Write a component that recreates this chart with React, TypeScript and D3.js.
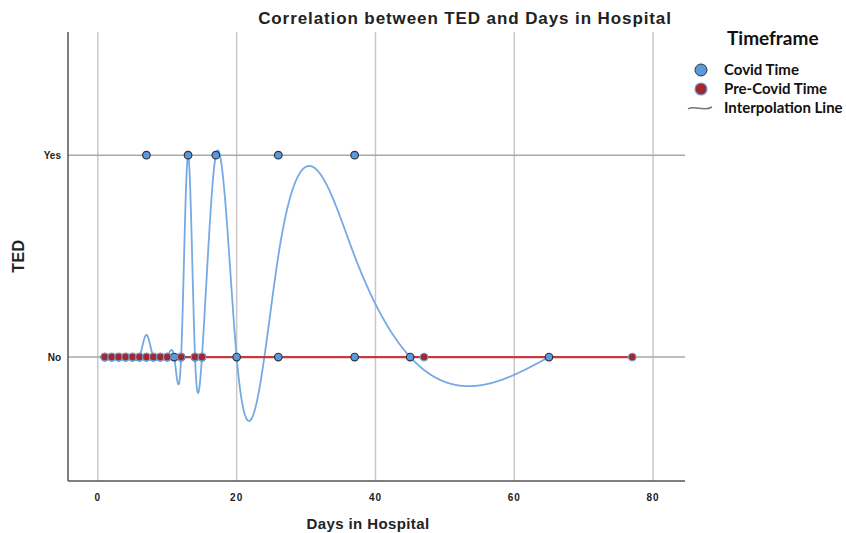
import React, { useEffect, useRef } from "react";
import * as d3 from "d3";

// TED: 0 = No, 1 = Yes
const covidYesDays = [7, 13, 17, 26, 37];
const covidNoDays = [1, 2, 3, 4, 5, 6, 7, 8, 9, 10, 11, 12, 14, 15, 20, 26, 37, 45, 65];
const preCovidNoDays = [1, 2, 3, 4, 5, 6, 7, 8, 9, 10, 12, 14, 15, 47, 77];

// interpolation knots (mean TED per day)
const covidLineDays = [1, 2, 3, 4, 5, 6, 7, 8, 9, 10, 11, 12, 13, 14, 15, 17, 20, 26, 37, 45, 65];
const covidLineTED = [0, 0, 0, 0, 0, 0, 0.11, 0, 0, 0, 0, 0, 1, 0, 0, 1, 0, 0.5, 0.5, 0, 0];
const preCovidLineDays = [1, 77];
const preCovidLineTED = [0, 0];

const xTicks = [0, 20, 40, 60, 80];
const yTicks = [
  { v: 1, label: "Yes" },
  { v: 0, label: "No" },
];

const legendItems = ["Covid Time", "Pre-Covid Time", "Interpolation Line"];

const COVID = "#5b98dc";
const PRE = "#a3282b";

function naturalSpline(xs: number[], ys: number[]) {
  const n = xs.length;
  const h = d3.range(n - 1).map((i) => xs[i + 1] - xs[i]);
  const a = new Array(n).fill(0);
  const b = new Array(n).fill(0);
  const c = new Array(n).fill(0);
  const r = new Array(n).fill(0);
  b[0] = 1;
  b[n - 1] = 1;
  for (let i = 1; i < n - 1; i++) {
    a[i] = h[i - 1];
    b[i] = 2 * (h[i - 1] + h[i]);
    c[i] = h[i];
    r[i] = 6 * ((ys[i + 1] - ys[i]) / h[i] - (ys[i] - ys[i - 1]) / h[i - 1]);
  }
  // thomas algorithm
  const cp = new Array(n).fill(0);
  const rp = new Array(n).fill(0);
  cp[0] = c[0] / b[0];
  rp[0] = r[0] / b[0];
  for (let i = 1; i < n; i++) {
    const m = b[i] - a[i] * cp[i - 1];
    cp[i] = c[i] / m;
    rp[i] = (r[i] - a[i] * rp[i - 1]) / m;
  }
  const M = new Array(n).fill(0);
  M[n - 1] = rp[n - 1];
  for (let i = n - 2; i >= 0; i--) M[i] = rp[i] - cp[i] * M[i + 1];
  return (x: number) => {
    let i = d3.bisectRight(xs, x) - 1;
    i = Math.max(0, Math.min(n - 2, i));
    const hi = h[i];
    const t1 = xs[i + 1] - x;
    const t0 = x - xs[i];
    return (
      (M[i] * t1 * t1 * t1) / (6 * hi) +
      (M[i + 1] * t0 * t0 * t0) / (6 * hi) +
      (ys[i] / hi - (M[i] * hi) / 6) * t1 +
      (ys[i + 1] / hi - (M[i + 1] * hi) / 6) * t0
    );
  };
}

export default function App() {
  const svgRef = useRef<SVGSVGElement>(null);

  useEffect(() => {
    if (!svgRef.current) return;
    const width = 846;
    const height = 533;
    const m = { left: 68, right: 161, top: 32, bottom: 52 };

    const svg = d3.select(svgRef.current);
    svg.selectAll("*").remove();

    const x = d3.scaleLinear().domain([-4.3, 84.6]).range([m.left, width - m.right]);
    const y = d3.scaleLinear().domain([-0.614, 1.61]).range([height - m.bottom, m.top]);

    const font = "'Liberation Sans', Arial, sans-serif";
    const legendFont = "Lato, 'Open Sans', sans-serif";

    // vertical grid
    svg
      .append("g")
      .selectAll("line")
      .data(xTicks)
      .join("line")
      .attr("x1", (d) => x(d))
      .attr("x2", (d) => x(d))
      .attr("y1", m.top)
      .attr("y2", height - m.bottom)
      .attr("stroke", "#c8c8c8")
      .attr("stroke-width", 1.5);

    // horizontal category lines
    svg
      .append("g")
      .selectAll("line")
      .data(yTicks)
      .join("line")
      .attr("x1", m.left)
      .attr("x2", width - m.right)
      .attr("y1", (d) => y(d.v))
      .attr("y2", (d) => y(d.v))
      .attr("stroke", "#a8a8a8")
      .attr("stroke-width", 1.5);

    // axes
    svg
      .append("line")
      .attr("x1", m.left)
      .attr("x2", m.left)
      .attr("y1", m.top)
      .attr("y2", height - m.bottom)
      .attr("stroke", "#555")
      .attr("stroke-width", 1.5);
    svg
      .append("line")
      .attr("x1", m.left)
      .attr("x2", width - m.right)
      .attr("y1", height - m.bottom)
      .attr("y2", height - m.bottom)
      .attr("stroke", "#555")
      .attr("stroke-width", 1.5);

    svg
      .append("g")
      .selectAll("text")
      .data(xTicks)
      .join("text")
      .attr("x", (d) => x(d))
      .attr("y", height - m.bottom + 20)
      .attr("text-anchor", "middle")
      .attr("font-family", font)
      .attr("font-size", 10)
      .attr("font-weight", "bold")
      .attr("letter-spacing", 1)
      .attr("fill", "#222")
      .text((d) => d);

    svg
      .append("g")
      .selectAll("text")
      .data(yTicks)
      .join("text")
      .attr("x", m.left - 7)
      .attr("y", (d) => y(d.v) + 4)
      .attr("text-anchor", "end")
      .attr("font-family", font)
      .attr("font-size", 10)
      .attr("font-weight", "bold")
      .attr("fill", "#222")
      .text((d) => d.label);

    // interpolation lines
    const line = d3
      .line<[number, number]>()
      .x((d) => x(d[0]))
      .y((d) => y(d[1]));

    const preF = naturalSpline(preCovidLineDays, preCovidLineTED);
    const preSamples = d3
      .range(preCovidLineDays[0], preCovidLineDays[preCovidLineDays.length - 1] + 0.01, 0.5)
      .map((d) => [d, preF(d)] as [number, number]);

    const covF = naturalSpline(covidLineDays, covidLineTED);
    const covSamples = d3
      .range(covidLineDays[0], covidLineDays[covidLineDays.length - 1] + 0.001, 0.05)
      .map((d) => [d, covF(d)] as [number, number]);

    svg
      .append("path")
      .attr("d", line(covSamples))
      .attr("fill", "none")
      .attr("stroke", "#75aae6")
      .attr("stroke-width", 1.8);

    svg
      .append("path")
      .attr("d", line(preSamples))
      .attr("fill", "none")
      .attr("stroke", "#c43b3d")
      .attr("stroke-width", 2.2);

    // points
    const pre = preCovidNoDays.map((d) => ({ d, v: 0 }));
    const cov = [
      ...covidNoDays.map((d) => ({ d, v: 0 })),
      ...covidYesDays.map((d) => ({ d, v: 1 })),
    ];

    svg
      .append("g")
      .selectAll("circle")
      .data(cov)
      .join("circle")
      .attr("cx", (p) => x(p.d))
      .attr("cy", (p) => y(p.v))
      .attr("r", 3.8)
      .attr("fill", COVID)
      .attr("stroke", "#2b3540")
      .attr("stroke-width", 1.2);

    svg
      .append("g")
      .selectAll("circle")
      .data(pre)
      .join("circle")
      .attr("cx", (p) => x(p.d))
      .attr("cy", (p) => y(p.v))
      .attr("r", 3.8)
      .attr("fill", PRE)
      .attr("stroke", "#6f9fd8")
      .attr("stroke-width", 1.2);

    // titles
    svg
      .append("text")
      .attr("x", 465)
      .attr("y", 24)
      .attr("text-anchor", "middle")
      .attr("font-family", font)
      .attr("font-size", 17)
      .attr("font-weight", "bold")
      .attr("letter-spacing", 0.9)
      .attr("fill", "#222")
      .text("Correlation between TED and Days in Hospital");

    svg
      .append("text")
      .attr("x", 368)
      .attr("y", 529)
      .attr("text-anchor", "middle")
      .attr("font-family", font)
      .attr("font-size", 15)
      .attr("font-weight", "bold")
      .attr("letter-spacing", 0.4)
      .attr("fill", "#222")
      .text("Days in Hospital");

    svg
      .append("text")
      .attr("transform", `translate(24,${y(0.5)}) rotate(-90)`)
      .attr("text-anchor", "middle")
      .attr("font-family", font)
      .attr("font-size", 16)
      .attr("font-weight", "bold")
      .attr("letter-spacing", 0.5)
      .attr("fill", "#222")
      .text("TED");

    // legend
    const lg = svg.append("g");
    lg.append("text")
      .attr("x", 727)
      .attr("y", 45)
      .attr("font-family", legendFont)
      .attr("font-size", 19)
      .attr("font-weight", "bold")
      .attr("fill", "#111")
      .text("Timeframe");

    const ly = d3.scalePoint<string>().domain(legendItems).range([70, 108]);
    lg.selectAll("text.item")
      .data(legendItems)
      .join("text")
      .attr("class", "item")
      .attr("x", 724)
      .attr("y", (d) => (ly(d) as number) + 5)
      .attr("font-family", legendFont)
      .attr("font-size", 15)
      .attr("font-weight", "bold")
      .attr("fill", "#111")
      .text((d) => d);

    lg.append("circle")
      .attr("cx", 701)
      .attr("cy", ly("Covid Time") as number)
      .attr("r", 6)
      .attr("fill", COVID)
      .attr("stroke", "#2b3540")
      .attr("stroke-width", 1);
    lg.append("circle")
      .attr("cx", 701)
      .attr("cy", ly("Pre-Covid Time") as number)
      .attr("r", 6)
      .attr("fill", PRE)
      .attr("stroke", "#6f9fd8")
      .attr("stroke-width", 1.2);
    const sy = ly("Interpolation Line") as number;
    lg.append("path")
      .attr("d", `M688,${sy + 1} C694,${sy - 3} 704,${sy + 4} 712,${sy - 1}`)
      .attr("fill", "none")
      .attr("stroke", "#777")
      .attr("stroke-width", 1.5);
  }, []);

  return (
    <svg
      ref={svgRef}
      width={846}
      height={533}
      style={{ position: "absolute", left: 0, top: 0, background: "#fff" }}
    />
  );
}
